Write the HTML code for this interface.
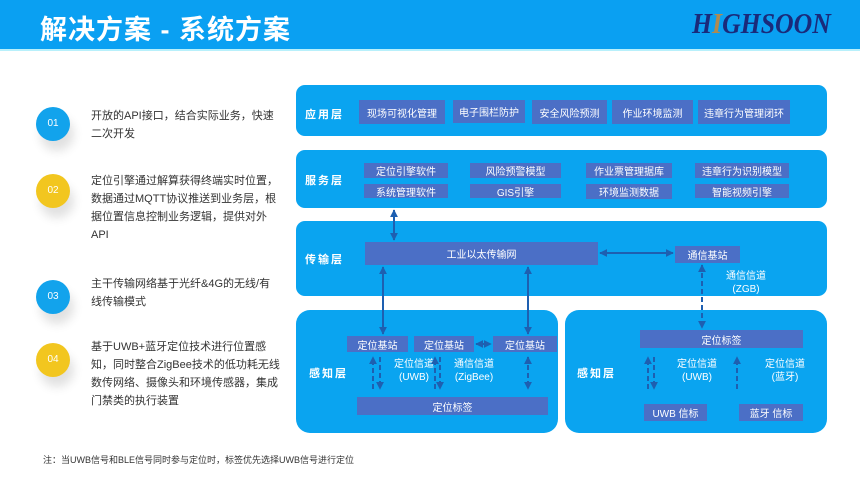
<!DOCTYPE html>
<html><head><meta charset="utf-8"><style>
*{margin:0;padding:0;box-sizing:border-box}
body{width:860px;height:484px;background:#fff;position:relative;overflow:hidden;font-family:"Liberation Sans","Noto Sans CJK SC",sans-serif}
.a{position:absolute}
.hdr{left:0;top:0;width:860px;height:51px;background:#0aa0f2;border-bottom:2px solid #b8f0fb}
.title{left:40px;top:8px;color:#fff;font-size:27px;font-weight:bold;letter-spacing:1px}
.logo{left:692px;top:9px;font-family:"Liberation Serif",serif;font-style:italic;font-weight:bold;font-size:28px;color:#1a2a7a;transform:scaleX(0.92);transform-origin:left}
.c{width:34px;height:34px;border-radius:50%;color:#fff;font-size:10px;text-align:center;line-height:34px;box-shadow:4px 10px 10px rgba(0,0,0,0.12)}
.t{left:91px;width:190px;font-size:11px;line-height:18px;color:#333}
.L{background:#0aa4f0;border-radius:9px}
.b{background:#4b6fc6;color:#fff;font-size:10px;text-align:center;display:flex;align-items:center;justify-content:center}
.lab{color:#fff;font-size:11px;font-weight:bold;letter-spacing:2px}
.w{color:#fff;font-size:10px;text-align:center;line-height:13px}
</style></head><body>
<div class="a hdr"></div>
<div class="a title">解决方案 - 系统方案</div>
<div class="a logo">H<span style="color:#b08a50">I</span>GHSOON</div>

<div class="a c" style="left:36px;top:107px;background:#12a3ec">01</div>
<div class="a c" style="left:36px;top:174px;background:#f2c61f">02</div>
<div class="a c" style="left:36px;top:280px;background:#12a3ec">03</div>
<div class="a c" style="left:36px;top:343px;background:#f2c61f">04</div>
<div class="a t" style="top:107px">开放的API接口，结合实际业务，快速二次开发</div>
<div class="a t" style="top:172px">定位引擎通过解算获得终端实时位置，数据通过MQTT协议推送到业务层，根据位置信息控制业务逻辑，提供对外API</div>
<div class="a t" style="top:275px">主干传输网络基于光纤&amp;4G的无线/有线传输模式</div>
<div class="a t" style="top:338px">基于UWB+蓝牙定位技术进行位置感知，同时整合ZigBee技术的低功耗无线数传网络、摄像头和环境传感器，集成门禁类的执行装置</div>
<div class="a" style="left:43px;top:453px;font-size:9px;color:#333">注：当UWB信号和BLE信号同时参与定位时，标签优先选择UWB信号进行定位</div>

<div class="a L" style="left:296px;top:85px;width:531px;height:51px"></div>
<div class="a L" style="left:296px;top:150px;width:531px;height:58px"></div>
<div class="a L" style="left:296px;top:221px;width:531px;height:75px"></div>
<div class="a L" style="left:296px;top:310px;width:262px;height:123px;border-radius:14px"></div>
<div class="a L" style="left:565px;top:310px;width:262px;height:123px;border-radius:14px"></div>

<div class="a lab" style="left:305px;top:106px">应用层</div>
<div class="a lab" style="left:305px;top:172px">服务层</div>
<div class="a lab" style="left:305px;top:251px">传输层</div>
<div class="a lab" style="left:309px;top:365px">感知层</div>
<div class="a lab" style="left:577px;top:365px">感知层</div>

<div class="a b" style="left:359px;top:100px;width:86px;height:24px">现场可视化管理</div>
<div class="a b" style="left:453px;top:100px;width:72px;height:23px">电子围栏防护</div>
<div class="a b" style="left:532px;top:100px;width:75px;height:24px">安全风险预测</div>
<div class="a b" style="left:612px;top:100px;width:81px;height:24px">作业环境监测</div>
<div class="a b" style="left:698px;top:100px;width:92px;height:24px">违章行为管理闭环</div>

<div class="a b" style="left:364px;top:163px;width:84px;height:15px">定位引擎软件</div>
<div class="a b" style="left:470px;top:163px;width:91px;height:15px">风险预警模型</div>
<div class="a b" style="left:586px;top:163px;width:86px;height:15px">作业票管理据库</div>
<div class="a b" style="left:695px;top:163px;width:94px;height:15px">违章行为识别模型</div>
<div class="a b" style="left:364px;top:184px;width:84px;height:14px">系统管理软件</div>
<div class="a b" style="left:470px;top:184px;width:91px;height:14px">GIS引擎</div>
<div class="a b" style="left:586px;top:184px;width:86px;height:15px">环境监测数据</div>
<div class="a b" style="left:695px;top:184px;width:94px;height:14px">智能视频引擎</div>

<div class="a b" style="left:365px;top:242px;width:233px;height:23px">工业以太传输网</div>
<div class="a b" style="left:675px;top:246px;width:65px;height:17px">通信基站</div>
<div class="a w" style="left:716px;top:270px;width:60px">通信信道<br>(ZGB)</div>

<div class="a b" style="left:347px;top:336px;width:61px;height:16px">定位基站</div>
<div class="a b" style="left:414px;top:336px;width:60px;height:16px">定位基站</div>
<div class="a b" style="left:493px;top:336px;width:64px;height:16px">定位基站</div>
<div class="a b" style="left:357px;top:397px;width:191px;height:18px">定位标签</div>
<div class="a w" style="left:384px;top:358px;width:60px">定位信道<br>(UWB)</div>
<div class="a w" style="left:444px;top:358px;width:60px">通信信道<br>(ZigBee)</div>

<div class="a b" style="left:640px;top:330px;width:163px;height:18px">定位标签</div>
<div class="a w" style="left:667px;top:358px;width:60px">定位信道<br>(UWB)</div>
<div class="a w" style="left:755px;top:358px;width:60px">定位信道<br>(蓝牙)</div>
<div class="a b" style="left:644px;top:404px;width:63px;height:17px">UWB 信标</div>
<div class="a b" style="left:739px;top:404px;width:64px;height:17px">蓝牙 信标</div>

<svg class="a" style="left:0;top:0" width="860" height="484">
<defs>
<marker id="m" viewBox="0 0 10 10" refX="9" refY="5" markerWidth="4" markerHeight="4" orient="auto-start-reverse"><path d="M0,0L10,5L0,10z" fill="#1e5fb0"/></marker>
</defs>
<g stroke="#1e5fb0" stroke-width="2" fill="none">
<line x1="394" y1="210" x2="394" y2="240" marker-start="url(#m)" marker-end="url(#m)"/>
<line x1="600" y1="253" x2="673" y2="253" marker-start="url(#m)" marker-end="url(#m)"/>
<line x1="383" y1="267" x2="383" y2="334" marker-start="url(#m)" marker-end="url(#m)"/>
<line x1="528" y1="267" x2="528" y2="334" marker-start="url(#m)" marker-end="url(#m)"/>
<g stroke-dasharray="5,3">
<line x1="702" y1="265" x2="702" y2="328" marker-start="url(#m)" marker-end="url(#m)"/>
<line x1="476" y1="344" x2="491" y2="344" stroke-dasharray="3,2" marker-start="url(#m)" marker-end="url(#m)"/>
<line x1="373" y1="389" x2="373" y2="357" marker-end="url(#m)"/>
<line x1="380" y1="357" x2="380" y2="389" marker-end="url(#m)"/>
<line x1="435" y1="389" x2="435" y2="357" marker-end="url(#m)"/>
<line x1="440" y1="357" x2="440" y2="389" marker-end="url(#m)"/>
<line x1="528" y1="357" x2="528" y2="389" marker-start="url(#m)" marker-end="url(#m)"/>
<line x1="648" y1="389" x2="648" y2="357" marker-end="url(#m)"/>
<line x1="654" y1="357" x2="654" y2="389" marker-end="url(#m)"/>
<line x1="737" y1="389" x2="737" y2="357" marker-end="url(#m)"/>
</g></g>
</svg>
</body></html>
